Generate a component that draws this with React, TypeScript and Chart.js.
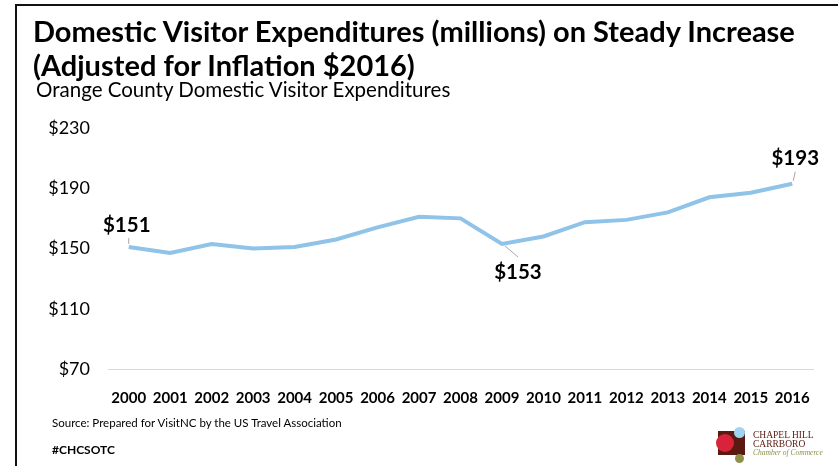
import React, { useEffect, useRef } from "react";
import { Chart, registerables } from "chart.js";

Chart.register(...registerables);

const years = ["2000","2001","2002","2003","2004","2005","2006","2007","2008","2009","2010","2011","2012","2013","2014","2015","2016"];
const expenditures = [151, 147, 153, 150, 151, 156, 164, 171, 170, 153, 158, 167.5, 169, 174, 184, 187, 193];
const labelledIndices = [0, 9, 16];
const yMin = 70;
const yMax = 230;
const yStep = 40;

const titleText = ["Domestic Visitor Expenditures (millions) on Steady Increase", "(Adjusted for Inflation $2016)"];
const subtitleText = "Orange County Domestic Visitor Expenditures";
const sourceText = "Source: Prepared for VisitNC by the US Travel Association";
const hashtagText = "#CHCSOTC";

// label offsets relative to the point (style only)
const labelOffsets: Record<number, { dx: number; dy: number; l1: [number, number]; l2: [number, number] }> = {
  0: { dx: -2, dy: -22, l1: [0, -3], l2: [0, -9] },
  9: { dx: 16, dy: 28, l1: [3, 2], l2: [16, 13] },
  16: { dx: 3, dy: -25, l1: [1, -3], l2: [3, -12] },
};

const dataLabelPlugin = {
  id: "dataLabelPlugin",
  afterDatasetsDraw(chart: any) {
    const meta = chart.getDatasetMeta(0);
    const ctx = chart.ctx;
    ctx.save();
    labelledIndices.forEach((i) => {
      const el = meta.data[i];
      const o = labelOffsets[i];
      ctx.strokeStyle = "#a6a6a6";
      ctx.lineWidth = 1;
      ctx.beginPath();
      ctx.moveTo(el.x + o.l1[0], el.y + o.l1[1]);
      ctx.lineTo(el.x + o.l2[0], el.y + o.l2[1]);
      ctx.stroke();
      ctx.fillStyle = "#000";
      ctx.font = "bold 20.5px Lato";
      ctx.textAlign = "center";
      ctx.textBaseline = "middle";
      ctx.fillText("$" + Math.round(expenditures[i]), el.x + o.dx, el.y + o.dy);
    });
    ctx.restore();
  },
};

export default function App() {
  const ref = useRef<HTMLCanvasElement | null>(null);
  useEffect(() => {
    if (!ref.current) return;
    const chart = new Chart(ref.current, {
      type: "line",
      data: {
        labels: years,
        datasets: [
          {
            data: expenditures,
            borderColor: "#8fc3e7",
            borderWidth: 4,
            pointRadius: 0,
            tension: 0,
            fill: false,
          },
        ],
      },
      options: {
        responsive: false,
        animation: false,
        layout: { padding: { top: 128, right: 25, left: 0, bottom: 0 } },
        plugins: { legend: { display: false }, tooltip: { enabled: false } },
        scales: {
          x: {
            offset: true,
            grid: { display: false },
            border: { display: true, color: "#d9d9d9", width: 1 },
            ticks: {
              color: "#000",
              font: { family: "Lato", size: 15, weight: "bold" },
              padding: 12,
              autoSkip: false,
              maxRotation: 0,
            },
            afterFit: (s: any) => { s.height = 97; },
          },
          y: {
            min: yMin,
            max: yMax,
            grid: { display: false },
            border: { display: false },
            ticks: {
              stepSize: yStep,
              color: "#000",
              font: { family: "Lato", size: 18 },
              padding: 10,
              callback: (v: any) => "$" + v,
            },
            afterFit: (s: any) => { s.width = 108; },
          },
        },
      },
      plugins: [dataLabelPlugin],
    });
    return () => chart.destroy();
  }, []);

  return (
    <div style={{ position: "fixed", left: 0, top: 0, width: 838, height: 466, background: "#fff", overflow: "hidden" }}>
      <div style={{ position: "absolute", left: 15, top: 4, width: 900, height: 600, borderTop: "2px solid #111", borderLeft: "2px solid #111" }} />
      <canvas ref={ref} width={838} height={466} style={{ position: "absolute", left: 0, top: 0 }} />
      <div style={{ position: "absolute", left: 33, top: 14, fontFamily: "Lato", fontWeight: "bold", fontSize: 29, lineHeight: "34px", color: "#000", whiteSpace: "nowrap" }}>
        {titleText[0]}<br />{titleText[1]}
      </div>
      <div style={{ position: "absolute", left: 36, top: 77, fontFamily: "Lato", fontSize: 20.5, lineHeight: "24px", color: "#000", whiteSpace: "nowrap" }}>
        {subtitleText}
      </div>
      <div style={{ position: "absolute", left: 52, top: 416, fontFamily: "Lato", fontSize: 11.5, color: "#000", whiteSpace: "nowrap" }}>
        {sourceText}
      </div>
      <div style={{ position: "absolute", left: 52, top: 442, fontFamily: "Lato", fontWeight: "bold", fontSize: 12, color: "#000", whiteSpace: "nowrap" }}>
        {hashtagText}
      </div>
      <div style={{ position: "absolute", left: 718, top: 431, width: 27, height: 24, background: "#5a1a12" }} />
      <div style={{ position: "absolute", left: 716, top: 434, width: 18, height: 18, borderRadius: 9, background: "#d9233a" }} />
      <div style={{ position: "absolute", left: 734, top: 427, width: 11, height: 11, borderRadius: 6, background: "#9fd3ef" }} />
      <div style={{ position: "absolute", left: 735, top: 454, width: 9, height: 9, borderRadius: 5, background: "#8f8f4a" }} />
      <div style={{ position: "absolute", left: 753, top: 431, fontFamily: "'Liberation Serif'", fontSize: 9.5, lineHeight: "9px", color: "#5a1a12", whiteSpace: "nowrap" }}>
        CHAPEL HILL<br />CARRBORO
      </div>
      <div style={{ position: "absolute", left: 753, top: 448, fontFamily: "'Liberation Serif'", fontStyle: "italic", fontSize: 7.5, lineHeight: "9px", color: "#8f8f4a", whiteSpace: "nowrap" }}>
        Chamber of Commerce
      </div>
    </div>
  );
}
